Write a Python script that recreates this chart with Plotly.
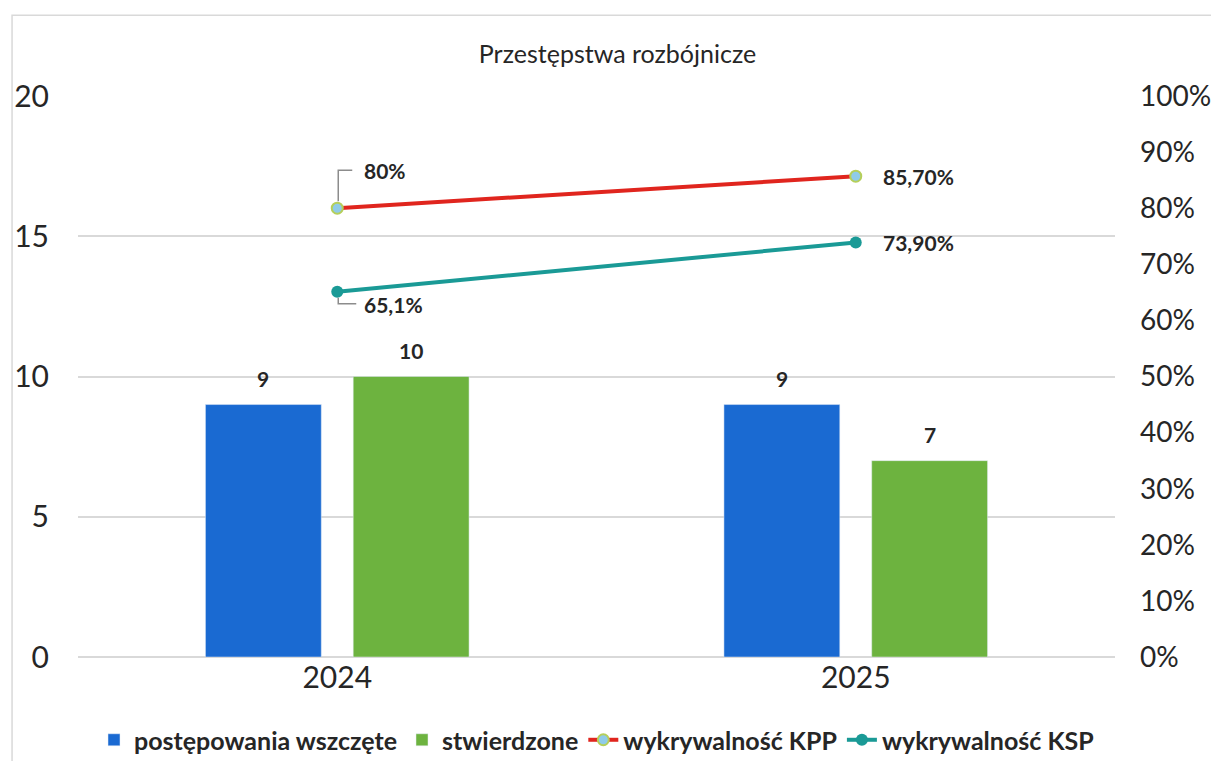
import plotly.graph_objects as go

# dane z wykresu
lata = ["2024", "2025"]
wszczete = [9, 9]
stwierdzone = [10, 7]
kpp = [0.80, 0.857]
ksp = [0.651, 0.739]
kpp_etykiety = ["80%", "85,70%"]
ksp_etykiety = ["65,1%", "73,90%"]
lewe_ticki = [0, 5, 10, 15, 20]
prawe_ticki = [i / 10 for i in range(11)]

FONT = "Lato"
TXT = "#262626"
pos = list(range(len(lata)))  # pozycje kategorii na osi x
lab_font = dict(size=21, color=TXT, family=FONT, weight="bold")

fig = go.Figure()

fig.add_trace(go.Bar(
    x=pos, y=wszczete, name="postępowania wszczęte",
    marker=dict(color="#1A6AD2"),
))
fig.add_trace(go.Bar(
    x=pos, y=stwierdzone, name="stwierdzone",
    marker=dict(color="#6DB33F"),
))
fig.add_trace(go.Scatter(
    x=pos, y=kpp, name="wykrywalność KPP", yaxis="y2",
    mode="lines+markers",
    line=dict(color="#E0251E", width=4),
    marker=dict(size=11, color="#8FCBE8", line=dict(color="#B5CF5A", width=2)),
    cliponaxis=False,
))
fig.add_trace(go.Scatter(
    x=pos, y=ksp, name="wykrywalność KSP", yaxis="y2",
    mode="lines+markers",
    line=dict(color="#1A9A96", width=4),
    marker=dict(size=12, color="#1A9A96"),
    cliponaxis=False,
))

# etykiety slupkow (przesuniecie do srodka slupka w grupie)
for i in pos:
    for vals, dx in ((wszczete, -74), (stwierdzone, 74)):
        fig.add_annotation(x=pos[i], y=vals[i], yref="y", text=str(vals[i]),
                           showarrow=False, xanchor="center", yanchor="middle",
                           xshift=dx, yshift=26, font=lab_font)

# etykiety procentowe
for i in pos:
    if i == 0:
        fig.add_annotation(x=pos[i], y=kpp[i], yref="y2", text=kpp_etykiety[i],
                           showarrow=False, xanchor="left", yanchor="middle",
                           xshift=25, yshift=38, font=lab_font)
        fig.add_annotation(x=pos[i], y=ksp[i], yref="y2", text=ksp_etykiety[i],
                           showarrow=False, xanchor="left", yanchor="middle",
                           xshift=25, yshift=-13, font=lab_font)
    else:
        fig.add_annotation(x=pos[i], y=kpp[i], yref="y2", text=kpp_etykiety[i],
                           showarrow=False, xanchor="left", yanchor="middle",
                           xshift=25, font=lab_font)
        fig.add_annotation(x=pos[i], y=ksp[i], yref="y2", text=ksp_etykiety[i],
                           showarrow=False, xanchor="left", yanchor="middle",
                           xshift=25, font=lab_font)

# linie odniesienia dla 2024
fig.add_shape(
    type="path", xref="x", yref="y2", xsizemode="pixel", ysizemode="pixel",
    xanchor=pos[0], yanchor=kpp[0], path="M 1,7 L 1,38 L 15,38",
    line=dict(color="#8C8C8C", width=1.5),
)
fig.add_shape(
    type="path", xref="x", yref="y2", xsizemode="pixel", ysizemode="pixel",
    xanchor=pos[0], yanchor=ksp[0], path="M 1,-6 L 1,-12 L 19,-12",
    line=dict(color="#8C8C8C", width=1.5),
)

# ramka
fig.add_shape(
    type="rect", xref="paper", yref="paper",
    x0=-0.0636, x1=1.2, y0=-0.4, y1=1.144,
    line=dict(color="#D9D9D9", width=1.5),
)

# strona html ma margines 8 px, wiec marginesy wykresu sa o to skorygowane
fig.update_layout(
    width=1219, height=761,
    paper_bgcolor="white", plot_bgcolor="white",
    margin=dict(l=70, r=112, t=88, b=112, autoexpand=False),
    barmode="group", bargap=0.43, bargroupgap=0.216,
    title=dict(text="Przestępstwa rozbójnicze", x=0.5, xref="container",
               xanchor="center", y=1 - 46 / 761, yanchor="middle",
               font=dict(size=25, color=TXT, family=FONT)),
    font=dict(family=FONT, color=TXT),
    xaxis=dict(
        range=[-0.5, len(lata) - 0.5], tickvals=pos, ticktext=lata,
        showgrid=False, showline=False, zeroline=False, ticks="",
        tickfont=dict(size=30, color=TXT, family=FONT), automargin=False,
    ),
    yaxis=dict(
        range=[0, 20], tickvals=lewe_ticki, showgrid=True,
        gridcolor="#D9D9D9", gridwidth=1.5, zeroline=True,
        zerolinecolor="#D9D9D9", zerolinewidth=1.5, showline=False,
        tickfont=dict(size=30, color=TXT, family=FONT),
        ticklabelstandoff=28, automargin=False,
    ),
    yaxis2=dict(
        overlaying="y", side="right", range=[0, 1],
        tickvals=prawe_ticki, tickformat=".0%", showgrid=False,
        zeroline=False, showline=False,
        tickfont=dict(size=28, color=TXT, family=FONT),
        ticklabelstandoff=24, automargin=False,
    ),
    legend=dict(
        orientation="h", x=0.5, xanchor="center", y=-0.148, yanchor="middle",
        font=dict(size=25, color=TXT, family=FONT, weight="bold"),
        tracegroupgap=0, itemwidth=30,
    ),
    showlegend=True,
)

fig.write_html("out.html")
